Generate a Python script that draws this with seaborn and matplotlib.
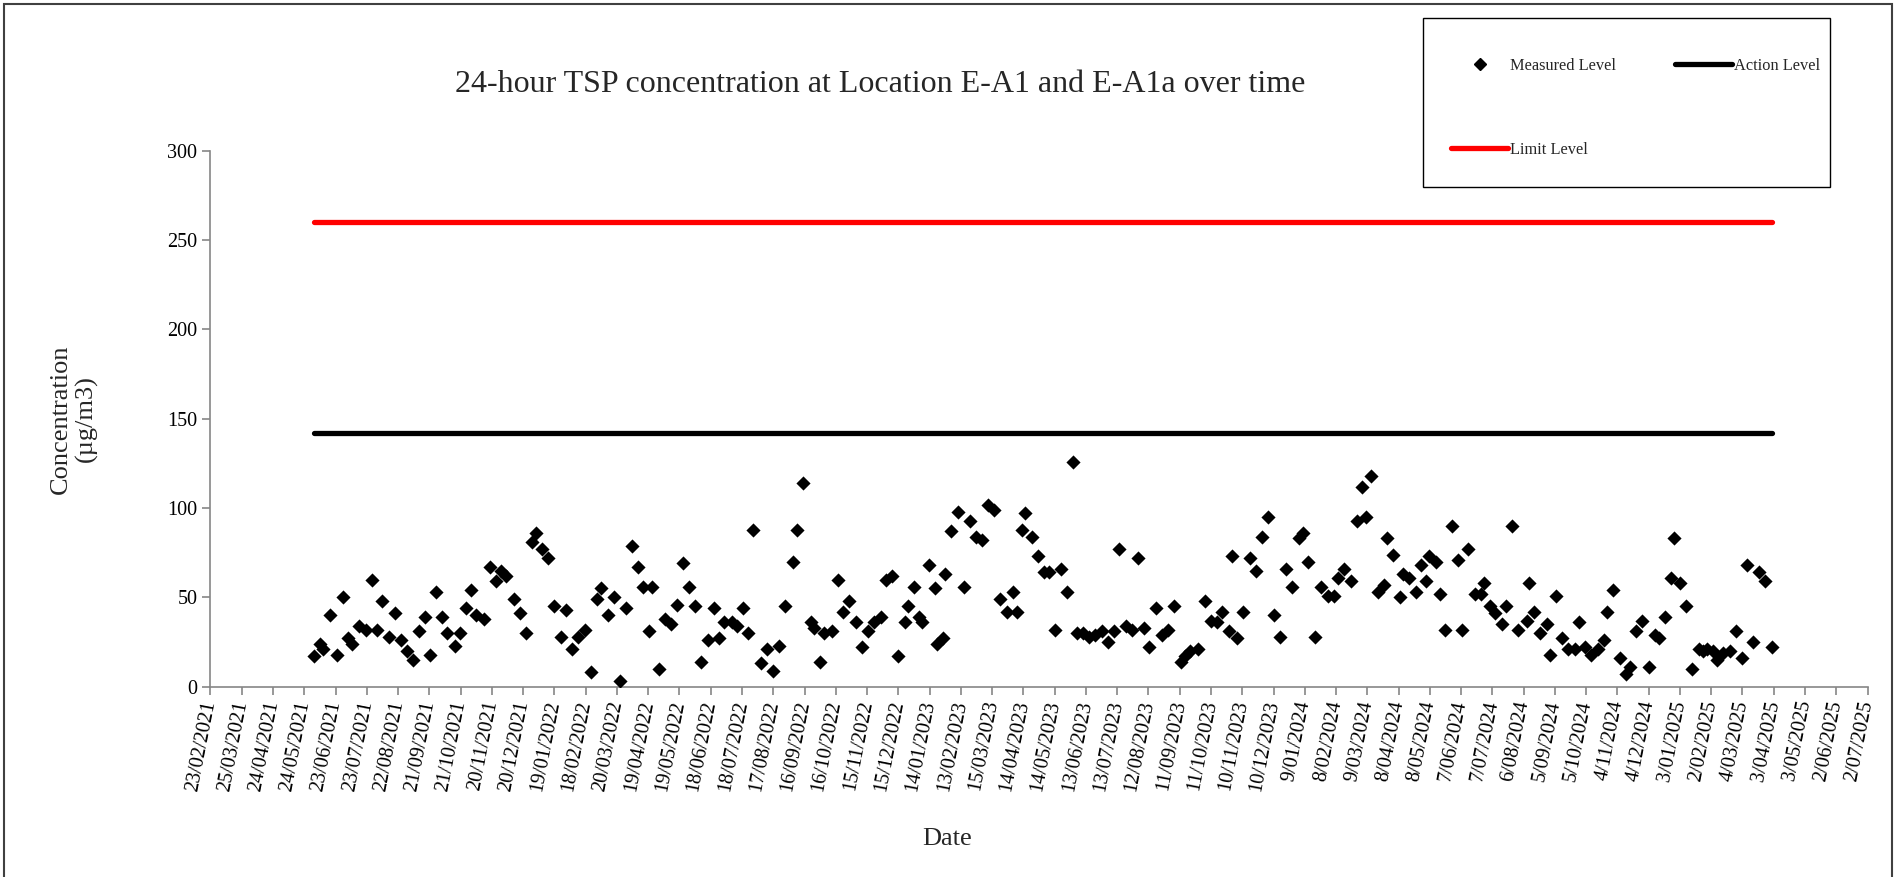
import pandas as pd
import matplotlib.pyplot as plt
import matplotlib.patches as patches
import matplotlib.transforms as mtransforms
from matplotlib.lines import Line2D
import seaborn as sns

# sampling days, counted from 23/02/2021 (start of the date axis)
days_since_start = [
    99, 105, 108, 115, 121, 127, 132, 136, 143, 149, 155, 160, 165, 171, 177, 183, 189, 194, 200, 206,
    211, 216, 222, 227, 235, 239, 245, 250, 255, 262, 268, 274, 279, 284, 291, 297, 303, 309, 312, 318,
    324, 330, 336, 341, 347, 353, 359, 365, 371, 375, 381, 387, 393, 399, 404, 410, 415, 421, 424, 430,
    436, 442, 448, 453, 459, 465, 471, 477, 483, 488, 493, 500, 505, 511, 516, 521, 528, 534, 540, 546,
    551, 559, 563, 569, 576, 579, 585, 589, 596, 602, 607, 613, 619, 625, 631, 637, 643, 648, 654, 660,
    666, 669, 675, 680, 683, 689, 695, 697, 703, 705, 711, 717, 723, 729, 735, 740, 746, 752, 758, 764,
    770, 774, 779, 782, 788, 794, 800, 805, 810, 816, 822, 828, 831, 837, 843, 849, 855, 861, 867, 872,
    878, 884, 890, 896, 901, 907, 913, 919, 925, 931, 935, 940, 948, 954, 960, 966, 971, 977, 980, 985,
    991, 997, 1003, 1009, 1015, 1020, 1026, 1032, 1038, 1044, 1048, 1053, 1060, 1066, 1072, 1078, 1082, 1088, 1094, 1100,
    1105, 1109, 1114, 1120, 1126, 1129, 1135, 1141, 1144, 1150, 1157, 1162, 1166, 1169, 1176, 1180, 1185, 1191, 1197, 1201,
    1207, 1213, 1219, 1222, 1228, 1233, 1239, 1243, 1249, 1255, 1263, 1265, 1270, 1276, 1282, 1285, 1291, 1297, 1303, 1309,
    1313, 1319, 1325, 1331, 1337, 1340, 1346, 1352, 1358, 1362, 1368, 1374, 1380, 1386, 1390, 1396, 1401, 1404, 1410, 1416,
    1422, 1428, 1432, 1436, 1442, 1446, 1451, 1458, 1464, 1470, 1474, 1480, 1486, 1492, 1498,
]

measured = [
    17, 24, 21, 40, 18, 50, 27, 24, 34, 32, 60, 32, 48, 28, 41, 26, 20, 15, 31, 39,
    18, 53, 39, 30, 23, 30, 44, 54, 40, 38, 67, 59, 65, 62, 49, 41, 30, 81, 86, 77,
    72, 45, 28, 43, 21, 28, 32, 8, 49, 55, 40, 50, 3, 44, 79, 67, 56, 31, 56, 10,
    38, 35, 46, 69, 56, 45, 14, 26, 44, 27, 36, 36, 34, 44, 30, 88, 13, 21, 9, 23,
    45, 70, 88, 114, 36, 33, 14, 30, 31, 60, 42, 48, 36, 22, 31, 36, 39, 60, 62, 17,
    36, 45, 56, 39, 36, 68, 55, 24, 27, 63, 87, 98, 56, 93, 84, 82, 102, 99, 49, 42,
    53, 42, 88, 97, 84, 73, 64, 64, 32, 66, 53, 126, 30, 30, 28, 29, 31, 25, 31, 77,
    34, 32, 72, 33, 22, 44, 29, 32, 45, 14, 17, 20, 21, 48, 37, 36, 42, 31, 73, 27,
    42, 72, 65, 84, 95, 40, 28, 66, 56, 83, 86, 70, 28, 56, 51, 51, 61, 66, 59, 93,
    112, 95, 118, 53, 57, 83, 74, 50, 63, 61, 53, 68, 59, 73, 70, 52, 32, 90, 71, 32,
    77, 52, 52, 58, 45, 41, 35, 45, 90, 32, 37, 58, 42, 30, 35, 18, 51, 27, 21, 21,
    36, 22, 18, 21, 26, 42, 54, 16, 7, 11, 31, 37, 11, 29, 27, 39, 61, 83, 58, 45,
    10, 21, 20, 21, 20, 15, 19, 20, 31, 16, 68, 25, 64, 59, 22,
]

action_level = 142
limit_level = 260

axis_start = pd.Timestamp("2021-02-23")
axis_end = pd.Timestamp("2025-07-02")

dates = axis_start + pd.to_timedelta(days_since_start, unit="D")
df = pd.DataFrame({"Date": dates, "Concentration": measured})
df["Action"] = action_level
df["Limit"] = limit_level

sns.set_theme(style="white")
plt.rcParams['font.family'] = ['Liberation Serif', 'DejaVu Serif']

fig, ax = plt.subplots(figsize=(18.96, 8.77), dpi=100)
fig.subplots_adjust(left=0.111, right=0.985, top=0.828, bottom=0.217)

sns.lineplot(data=df, x="Date", y="Limit", color="#ff0000", lw=3.8,
             solid_capstyle="round", ax=ax, legend=False)
sns.lineplot(data=df, x="Date", y="Action", color="black", lw=3.8,
             solid_capstyle="round", ax=ax, legend=False)
sns.scatterplot(data=df, x="Date", y="Concentration", marker="D", color="black",
                s=52, linewidth=0, ax=ax, legend=False, zorder=3)

# date axis, one tick every 30 days like the original
tick_dates = pd.date_range(axis_start, axis_end, freq="30D")
ax.set_xlim(axis_start, axis_end)
ax.set_xticks(tick_dates)
ax.set_xticklabels([f"{d.day}/{d.month:02d}/{d.year}" for d in tick_dates],
                   rotation=79, ha="right", va="center", rotation_mode="anchor")
shift = mtransforms.ScaledTranslation(0.21, 0, fig.dpi_scale_trans)
for lab in ax.get_xticklabels():
    lab.set_transform(lab.get_transform() + shift)
ax.set_ylim(0, 300)
ax.set_yticks(range(0, 301, 50))

for side in ["top", "right"]:
    ax.spines[side].set_visible(False)
for side in ["left", "bottom"]:
    ax.spines[side].set_color("#868686")
    ax.spines[side].set_linewidth(1.2)
ax.tick_params(axis="both", which="major", bottom=True, left=True, direction="out",
               length=6, width=1.2, color="#868686", labelsize=14.5, labelcolor="black")
ax.tick_params(axis="x", pad=4)

ax.set_ylabel("Concentration\n(µg/m3)", fontsize=19, linespacing=1.15)
ax.yaxis.set_label_coords(-0.068, 0.5)
ax.set_xlabel("Date", fontsize=19)
ax.xaxis.set_label_coords(0.4445, -0.264)

fig.text(880 / 1896, 1 - 85 / 877,
         "24-hour TSP concentration at Location E-A1 and E-A1a over time",
         ha="center", va="center", fontsize=23)

handles = [
    Line2D([], [], ls="none", marker="D", color="black", markersize=6.5),
    Line2D([], [], color="#ff0000", lw=3.8, solid_capstyle="round"),
    Line2D([], [], color="black", lw=3.8, solid_capstyle="round"),
]
labels = ["Measured Level", "Limit Level", "Action Level"]
leg = ax.legend(handles, labels, ncol=2, loc="upper left",
                bbox_to_anchor=(1451 / 1896, 1 - 58 / 877), bbox_transform=fig.transFigure,
                borderaxespad=0, borderpad=0, fontsize=11.8, frameon=False,
                labelspacing=4.15, columnspacing=3.6, handlelength=3.5,
                handletextpad=0.1)

# legend box drawn as its own frame
fig.patches.append(patches.Rectangle((1423 / 1896, 1 - 187 / 877), 407 / 1896, 169 / 877,
                                     transform=fig.transFigure, fill=False,
                                     edgecolor="black", lw=1.0))

# outer chart frame (bottom edge falls outside the image, as in the original)
fig.patches.append(patches.Rectangle((4 / 1896, -10 / 877), 1 - 8 / 1896, 1 - 4 / 877 + 10 / 877,
                                     transform=fig.transFigure, fill=False,
                                     edgecolor="#404040", lw=1.5))

fig.savefig("out.png", dpi=100)
